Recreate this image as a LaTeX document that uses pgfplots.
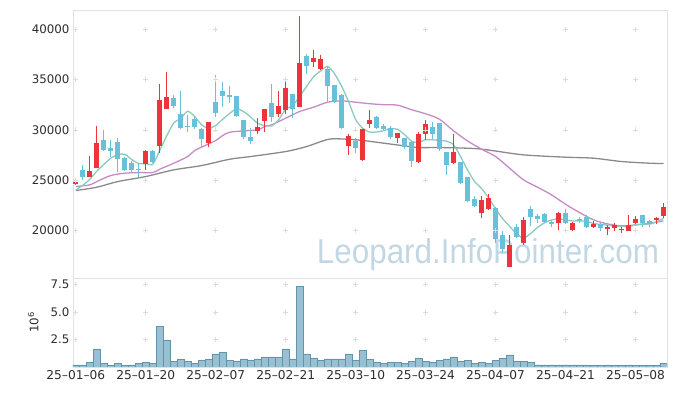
\documentclass[border=0pt]{standalone}
\usepackage{fontspec}
\setmainfont{DejaVu Sans}
\newfontfamily\wmfont{Liberation Sans}
\usepackage{pgfplots}
\pgfplotsset{compat=1.18}
\usepackage{pgfplotstable}

\definecolor{upc}{RGB}{236,52,58}
\definecolor{dnc}{RGB}{104,192,217}
\definecolor{maA}{RGB}{140,202,190}
\definecolor{maB}{RGB}{200,138,198}
\definecolor{maC}{RGB}{138,138,138}
\definecolor{volf}{RGB}{152,192,210}
\definecolor{vold}{RGB}{98,148,172}
\definecolor{framec}{RGB}{225,225,225}
\definecolor{crossc}{RGB}{220,220,220}
\definecolor{wmc}{RGB}{194,215,228}
\definecolor{labc}{RGB}{45,45,45}

\pgfplotstableread{
i o h l c
0 24650 25100 24500 24800
2 25370 27422 25300 25900
3 26264 30400 26200 28680
10 26594 28018 26000 27918
12 28448 34538 27687 32983
13 32122 35763 32100 33281
19 28746 30800 28283 30765
26 29937 31163 29573 30302
27 30931 32100 29838 32089
29 31593 33877 31328 32387
30 31990 35068 31593 34175
32 32320 41324 32300 36657
34 36690 37882 36227 37153
35 35995 37452 35990 37054
39 28448 29573 27521 29408
41 27025 30100 26958 30070
42 30633 31957 30169 30997
46 29243 29740 28680 29673
49 26826 29838 26694 29573
50 29573 30997 29011 30600
54 26694 29573 26628 27786
58 21729 23450 21232 23053
59 22126 23615 22060 23218
62 16433 19544 16400 18584
64 18816 21398 18584 21067
69 20736 21861 20074 21729
71 20074 20835 20008 20736
74 20339 21001 20300 20670
76 20206 20537 19577 20405
77 20305 20736 20008 20570
78 20074 20405 19743 20173
79 20008 21564 19950 20570
80 20736 21464 20637 21166
83 21067 21398 20670 21232
84 21464 22722 21232 22325
}\upT

\pgfplotstableread{
i o h l c
1 26032 26528 25039 25370
4 29011 30004 28000 28051
5 28216 29011 27356 27951
6 28812 29209 25867 27157
7 27223 27300 26000 26065
8 26727 26958 25701 26065
9 26100 26694 25270 26050
11 27918 28000 26694 26826
14 33149 33479 32221 32420
15 31560 33877 30070 30236
16 30400 31494 29772 30330
17 31096 31329 30070 30335
18 30103 30150 28349 29143
20 32751 35432 31262 31659
21 33843 34770 32254 33413
22 33479 34373 32651 33215
23 33380 33400 31350 31427
24 30997 31000 29110 29342
25 29309 30202 28614 28945
28 32651 34571 30831 31328
31 33545 33600 31163 32122
33 37352 37551 35565 36293
36 35995 36293 32817 34373
37 34472 34500 32700 32883
38 33479 33545 30150 30202
40 28945 29176 27720 28250
43 31262 31394 30070 30236
44 30401 30600 30000 30070
45 30169 30401 29077 29276
47 29176 29243 28117 28349
48 28812 28945 26297 26958
51 30269 30831 29143 29573
52 30666 30732 27951 28084
53 27819 27850 25502 26561
55 26793 26850 24642 24708
56 25304 25350 22854 22920
57 23119 23450 22325 22424
60 22225 22300 18750 19147
61 19544 20008 17757 18154
63 20405 20670 19300 19346
65 22126 22457 20471 21398
66 21464 21630 20802 21199
67 21663 21729 20835 20901
68 20830 21067 20405 20700
70 21795 22126 20700 20736
72 21199 21398 20802 21001
73 21398 21564 20400 20405
75 20670 20736 20008 20272
81 21564 21600 20405 20736
82 20967 21067 20405 20637
}\dnT

\pgfplotstableread{
i v
0 24050
1 24500
2 25100
3 25900
4 26560
5 27190
6 27548
7 27581
8 27058
9 26658
10 26651
11 26585
12 27968
13 29412
14 30686
15 31149
16 31850
17 31320
18 30493
19 30162
20 30446
21 31063
22 31639
23 32096
24 31811
25 31268
26 30646
27 30421
28 30401
29 31010
30 32056
31 32420
32 33334
33 34327
34 35280
35 35856
36 36306
37 35551
38 34333
39 32784
40 31023
41 30163
42 29785
43 29792
44 29925
45 30130
46 30050
47 29521
48 28865
49 28766
50 29031
51 29011
52 28958
53 28878
54 28521
55 27342
56 26012
57 24880
58 24178
59 23265
60 22152
61 21199
62 20431
63 19690
64 19260
65 19710
66 20319
67 20782
68 21053
69 21185
70 21053
71 20960
72 20980
73 20921
74 20710
75 20617
76 20551
77 20464
78 20418
79 20398
80 20577
81 20643
82 20656
83 20868
84 21219
}\maAT

\pgfplotstableread{
i v
0 24377
2 24540
3 24870
5 25470
7 25700
9 25767
11 25767
12 26098
14 26694
16 27356
17 27952
19 28614
20 28945
21 29441
22 29770
24 29905
26 30004
27 30335
28 30500
30 31163
32 31824
34 32254
36 32750
38 32880
40 32750
42 32600
44 32500
46 32450
48 32000
50 31600
52 31050
54 29900
56 28900
58 28084
60 27356
62 26197
64 25039
66 24311
68 23550
70 22622
72 21795
74 21067
76 20670
78 20471
80 20570
82 20736
84 20967
}\maBT

\pgfplotstableread{
i v
0 23980
3 24311
6 24870
10 25370
14 26032
18 26462
22 27090
25 27356
30 27853
33 28349
36 29050
38 29100
41 28950
46 28500
49 28250
52 28250
57 28150
60 27900
64 27521
70 27290
74 27190
78 26860
82 26694
84 26660
}\maCT

\pgfplotstableread{
i v
0 0.2
1 0.2
2 0.4
3 1.65
4 0.3
5 0.2
6 0.3
7 0.2
8 0.2
9 0.3
10 0.4
11 0.3
12 3.73
13 2.47
14 0.48
15 0.66
16 0.48
17 0.3
18 0.57
19 0.66
20 1.2
21 1.3
22 0.57
23 0.48
24 0.75
25 0.57
26 0.75
27 0.93
28 0.93
29 0.93
30 1.65
31 0.75
32 7.35
33 1.2
34 0.84
35 0.57
36 0.75
37 0.75
38 0.75
39 1.2
40 0.57
41 1.5
42 0.66
43 0.4
44 0.3
45 0.4
46 0.4
47 0.3
48 0.48
49 0.84
50 0.48
51 0.4
52 0.57
53 0.75
54 0.93
55 0.48
56 0.57
57 0.3
58 0.4
59 0.3
60 0.57
61 0.84
62 1.1
63 0.48
64 0.48
65 0.4
66 0.2
67 0.2
68 0.2
69 0.2
70 0.2
71 0.2
72 0.2
73 0.2
74 0.12
75 0.12
76 0.2
77 0.12
78 0.12
79 0.2
80 0.12
81 0.12
82 0.12
83 0.12
84 0.3
}\volT

\pgfplotsset{
  common/.style={
    scale only axis,
    width=594pt,
    xmin=-0.4, xmax=84.5,
    major tick length=0pt,
    axis line style={draw=framec},
    ticklabel style={font=\fontsize{11.8}{13}\selectfont, text=labc},
    /pgf/number format/assume math mode=true,
    clip=true,
  },
  candle/.style={draw=none, no markers, error bars/y explicit, error bars/error mark=none},
}

\begin{document}
\begin{tikzpicture}
\useasboundingbox (-73pt,-29pt) rectangle (604pt,367pt);
\node[anchor=base, text=wmc, font=\wmfont\fontsize{34.5}{35}\selectfont, xscale=0.91, inner sep=0pt] at (415pt,103pt) {Leopard.InfoPointer.com};

\begin{axis}[common,
  at={(0pt,0pt)}, anchor=south west,
  height=89pt,
  ymin=0, ymax=8.1,
  xtick={0,10,20,30,40,50,60,70,80},
  xticklabels={25–01–06,25–01–20,25–02–07,25–02–21,25–03–10,25–03–24,25–04–07,25–04–21,25–05–08},
  xticklabel style={font=\fontsize{12.2}{13}\selectfont},
  ytick={2.5,5,7.5},
  yticklabel style={/pgf/number format/.cd, fixed, fixed zerofill, precision=1},
  ylabel={10\textsuperscript{6}},
  ylabel style={at={(axis description cs:-0.067,0.5)}, anchor=center, font=\fontsize{11.8}{13}\selectfont, text=labc},
]
\addplot[only marks, mark=+, mark size=2.5pt, crossc, line width=0.6pt] coordinates {
(0,2.5)(10,2.5)(20,2.5)(30,2.5)(40,2.5)(50,2.5)(60,2.5)(70,2.5)(80,2.5)
(0,5)(10,5)(20,5)(30,5)(40,5)(50,5)(60,5)(70,5)(80,5)
(0,7.5)(10,7.5)(20,7.5)(30,7.5)(40,7.5)(50,7.5)(60,7.5)(70,7.5)(80,7.5)};
\addplot[ybar, bar width=1, fill=volf, draw=vold, line width=0.5pt] table[x=i, y=v] {\volT};
\end{axis}

\begin{axis}[common,
  at={(0pt,89pt)}, anchor=south west,
  height=268pt,
  ymin=15300, ymax=41900,
  xtick=\empty,
  ytick={20000,25000,30000,35000,40000},
  scaled y ticks=false,
  yticklabel style={/pgf/number format/.cd, fixed, 1000 sep={}},
]
\addplot[only marks, mark=+, mark size=2.5pt, crossc, line width=0.6pt] coordinates {
(0,20000)(10,20000)(20,20000)(30,20000)(40,20000)(50,20000)(60,20000)(70,20000)(80,20000)
(0,25000)(10,25000)(20,25000)(30,25000)(40,25000)(50,25000)(60,25000)(70,25000)(80,25000)
(0,30000)(10,30000)(20,30000)(30,30000)(40,30000)(50,30000)(60,30000)(70,30000)(80,30000)
(0,35000)(10,35000)(20,35000)(30,35000)(40,35000)(50,35000)(60,35000)(70,35000)(80,35000)
(0,40000)(10,40000)(20,40000)(30,40000)(40,40000)(50,40000)(60,40000)(70,40000)(80,40000)};
\addplot[maC, line width=1.3pt, smooth, mark=none] table[x=i, y=v] {\maCT};
\addplot[maB, line width=1.3pt, smooth, mark=none] table[x=i, y=v] {\maBT};
\addplot[maA, line width=1.3pt, smooth, tension=0.4, mark=none] table[x=i, y=v] {\maAT};
% wicks
\addplot[candle, error bars/y dir=both, error bars/error bar style={line width=1pt, draw=upc}]
  table[x=i, y=c, y error plus expr=\thisrow{h}-\thisrow{c}, y error minus expr=\thisrow{c}-\thisrow{l}] {\upT};
\addplot[candle, error bars/y dir=both, error bars/error bar style={line width=1pt, draw=dnc}]
  table[x=i, y=c, y error plus expr=\thisrow{h}-\thisrow{c}, y error minus expr=\thisrow{c}-\thisrow{l}] {\dnT};
% bodies
\addplot[candle, error bars/y dir=plus, error bars/error bar style={line width=5pt, draw=upc}]
  table[x=i, y=o, y error plus expr=\thisrow{c}-\thisrow{o}] {\upT};
\addplot[candle, error bars/y dir=plus, error bars/error bar style={line width=5pt, draw=dnc}]
  table[x=i, y=c, y error plus expr=\thisrow{o}-\thisrow{c}] {\dnT};
\end{axis}
\end{tikzpicture}
\end{document}
